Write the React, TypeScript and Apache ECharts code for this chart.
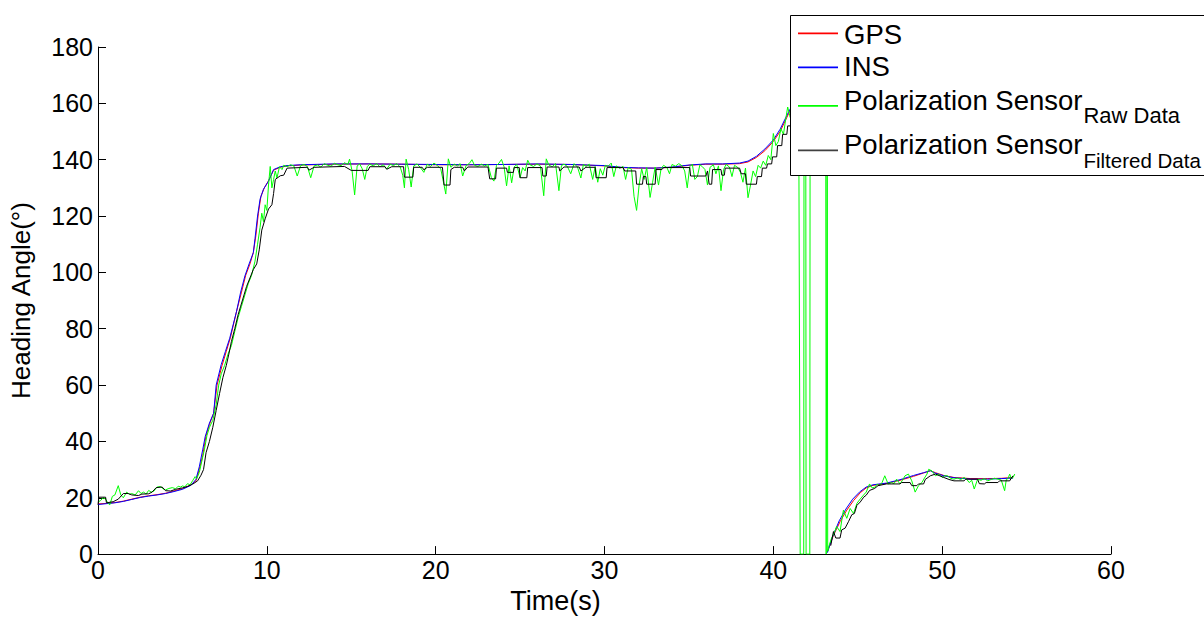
import React, { useEffect, useRef } from "react";
import * as echarts from "echarts";

type P = [number, number | null];

const FONT = "'Liberation Sans', Arial, Helvetica, sans-serif";

const xTickValues = [0, 10, 20, 30, 40, 50, 60];
const yTickValues = [0, 20, 40, 60, 80, 100, 120, 140, 160, 180];

const seriesNames = [
  "GPS",
  "INS",
  "Polarization Sensor Raw Data",
  "Polarization Sensor Filtered Data",
];
const legendMain = ["GPS", "INS", "Polarization Sensor", "Polarization Sensor"];
const legendSub = ["", "", "Raw Data", "Filtered Data"];
const seriesColors = ["#ff0000", "#0000ff", "#00ff00", "#000000"];

const gpsData: P[] = [
  [0, 17.8], [0.5, 18.0], [1, 18.3], [1.5, 18.8], [2, 19.5], [2.5, 20.2], [3, 20.7], [3.5, 21.1],
  [4, 21.6], [4.5, 22.4], [5, 23.2], [5.5, 24.6], [5.8, 26.0], [6.0, 30], [6.2, 35], [6.4, 42],
  [6.6, 46], [6.85, 50], [7.05, 60], [7.35, 67], [7.6, 72], [7.85, 77], [8.2, 86], [8.5, 93],
  [8.75, 99], [9.0, 103], [9.2, 107], [9.35, 113], [9.5, 121], [9.65, 127], [9.85, 130],
  [10.1, 132.5], [10.4, 136.3], [10.8, 137.3], [11.2, 137.8], [12, 138.1], [14, 138.4],
  [16, 138.5], [18, 138.4], [20, 138.2], [22, 138.2], [24, 138.3], [26, 138.4], [28, 138.3],
  [30, 137.8], [31, 137.2], [32, 137.0], [33, 137.0], [34, 137.3], [35, 138.0], [36, 138.4],
  [37, 138.4], [38, 138.6], [38.5, 139.2], [39, 140.8], [39.5, 143.2], [40, 146.5], [40.4, 150],
  [40.8, 155], [41.0, 157.5], [41.2, 160], [41.3, null],
  [43.2, 0.8], [43.55, 6.5], [43.95, 11.5], [44.35, 15.6], [44.75, 19], [45.15, 21.8],
  [45.5, 23.5], [45.9, 24.4], [46.7, 25.1], [47.5, 26.2], [48.3, 27.6], [48.9, 28.8],
  [49.3, 29.6], [49.6, 28.9], [50.1, 27.9], [50.7, 27.2], [51.7, 26.8], [52.7, 26.8],
  [53.5, 26.9], [54.2, 27.2],
];

const insData: P[] = [
  [0, 17.6], [0.5, 17.9], [1, 18.2], [1.5, 18.7], [2, 19.4], [2.5, 20.1], [3, 20.6], [3.5, 21],
  [4, 21.5], [4.5, 22.2], [5, 23], [5.5, 24.4], [5.8, 26.5], [6.0, 31], [6.2, 37], [6.35, 41.7],
  [6.6, 46.5], [6.85, 50], [7.0, 60], [7.3, 67.3], [7.55, 72], [7.8, 76.6], [8.2, 86],
  [8.45, 93], [8.7, 98.7], [8.95, 103], [9.2, 107], [9.3, 112], [9.45, 120], [9.6, 126],
  [9.8, 129.5], [10.1, 132.4], [10.4, 136.5], [10.8, 137.5], [11.2, 137.9], [12, 138.2],
  [14, 138.5], [16, 138.5], [18, 138.4], [20, 138.3], [22, 138.2], [24, 138.3], [26, 138.5],
  [28, 138.3], [30, 137.9], [31, 137.3], [32, 137.1], [33, 137.0], [34, 137.4], [35, 138.1],
  [36, 138.5], [37, 138.5], [38, 138.8], [38.5, 139.5], [39, 141.2], [39.5, 143.8], [40, 147],
  [40.4, 150.8], [40.8, 155.7], [41.0, 158], [41.2, 160.5], [41.3, null],
  [43.2, 0.5], [43.5, 6], [43.9, 11.8], [44.3, 16], [44.7, 19.5], [45.1, 22], [45.5, 23.8],
  [45.9, 24.6], [46.7, 25.2], [47.5, 26.4], [48.3, 27.9], [48.9, 28.9], [49.3, 29.6],
  [49.6, 28.7], [50.1, 27.8], [50.7, 27.1], [51.7, 26.6], [52.7, 26.6], [53.5, 26.8], [54.2, 27.0],
];

const rawData: P[] = [
  [0, 18.5], [0.15, 19], [0.3, 20], [0.45, 19.5], [0.6, 18], [0.7, 17.5], [0.85, 20.5], [1.0, 21],
  [1.2, 24.3], [1.35, 21], [1.5, 20], [1.7, 22], [1.85, 21.2], [2.0, 21.5], [2.2, 21], [2.4, 22.5],
  [2.55, 21.5], [2.7, 22], [2.85, 21.3], [3.0, 22.6], [3.15, 22], [3.3, 22.3], [3.5, 23.8],
  [3.7, 24], [3.85, 23.2], [4.0, 22.8], [4.2, 23.3], [4.4, 23.6], [4.6, 23.2], [4.75, 24.1],
  [4.9, 23.8], [5.0, 24.2], [5.15, 23.9], [5.3, 25], [5.45, 24.6], [5.6, 26], [5.75, 27.5],
  [5.85, 26.8],
  [6.0, 29], [6.15, 33], [6.3, 37], [6.45, 42], [6.6, 45], [6.8, 47.5], [7.0, 53], [7.15, 60],
  [7.3, 64], [7.5, 67], [7.7, 71], [7.9, 74], [8.1, 79], [8.3, 84], [8.5, 88], [8.7, 92],
  [8.9, 96], [9.1, 99], [9.3, 104], [9.45, 110], [9.6, 116], [9.7, 121], [9.8, 118], [9.9, 124],
  [10.0, 122], [10.1, 131], [10.2, 137.6], [10.3, 130], [10.4, 133], [10.5, 136], [10.6, 133.5],
  [10.75, 137.5], [10.9, 136.5], [11.0, 138],
  [11.2, 137.5], [11.4, 138.2], [11.6, 137.8], [11.8, 134.2], [12.0, 137.9], [12.2, 138.3],
  [12.4, 137.6], [12.6, 133.6], [12.8, 137.8], [13.0, 138.1], [13.2, 137.4], [13.4, 138.6],
  [13.6, 138.0], [13.8, 137.7], [14.0, 138.7], [14.2, 138.2], [14.4, 137.9], [14.6, 138.9],
  [14.8, 138.3], [14.9, 140.2], [15.05, 136], [15.2, 127.5], [15.35, 137.8], [15.5, 138.5],
  [15.65, 136.8], [15.8, 133.0], [15.95, 137.6], [16.1, 138.4], [16.3, 137.8], [16.5, 138.6],
  [16.7, 137.5], [16.9, 138.2], [17.1, 136.7], [17.3, 138.4], [17.5, 137.9], [17.7, 138.6],
  [17.9, 137.4], [18.05, 134.5], [18.15, 130], [18.25, 140.2], [18.4, 136.5], [18.55, 130.3],
  [18.7, 137.8], [18.9, 138.5], [19.1, 137.2], [19.3, 135.5], [19.5, 138.4], [19.7, 137.6],
  [19.9, 138.8], [20.1, 137.9], [20.3, 136.8], [20.45, 132.4], [20.6, 127.8], [20.75, 140.3],
  [20.9, 137.3], [21.1, 138.4], [21.3, 137.8], [21.45, 138.6], [21.6, 134.2], [21.8, 137.9],
  [22.0, 138.7], [22.15, 140], [22.3, 138], [22.5, 137.6], [22.7, 138.4], [22.9, 137.8],
  [23.1, 138.3], [23.3, 133.6], [23.45, 132.4], [23.6, 137.9], [23.75, 138.8], [23.9, 140.1],
  [24.05, 137.5], [24.2, 130.7], [24.35, 137.8], [24.5, 131.8], [24.65, 137.4], [24.8, 138.3],
  [25.0, 133.6], [25.15, 137.2], [25.3, 136], [25.45, 139.8], [25.6, 138.1], [25.8, 137.6],
  [26.0, 138.5], [26.2, 137.8], [26.4, 127.2], [26.55, 140.3], [26.7, 138.1], [26.9, 137.5],
  [27.1, 138.6], [27.3, 129], [27.45, 137.9], [27.6, 138.4], [27.8, 137.6], [28.0, 135],
  [28.2, 138.6], [28.4, 137.4], [28.6, 133.5], [28.75, 138.3], [28.9, 137.6], [29.1, 138.4],
  [29.3, 133], [29.45, 137.6], [29.6, 132], [29.75, 136.8], [29.9, 134.5], [30.05, 138],
  [30.2, 137.6], [30.4, 138.8], [30.55, 134], [30.7, 137.8], [30.9, 136.9], [31.1, 137.6],
  [31.25, 133], [31.4, 137.2], [31.6, 136.6], [31.75, 127], [31.9, 122], [32.05, 131],
  [32.2, 136.8], [32.35, 133], [32.5, 137.2], [32.7, 126.6], [32.85, 132], [33.0, 137.4],
  [33.2, 131], [33.35, 136.8], [33.5, 138], [33.7, 137.2], [33.85, 135], [34.0, 138.3],
  [34.2, 137.7], [34.4, 138.6], [34.6, 137.8], [34.75, 136], [34.9, 130], [35.05, 137.5],
  [35.2, 138.4], [35.35, 133], [35.5, 134], [35.65, 138.2], [35.8, 137.5], [35.95, 136.5],
  [36.1, 131], [36.25, 137.3], [36.45, 138.2], [36.6, 135], [36.75, 137.8], [36.9, 129],
  [37.05, 136.5], [37.2, 138.3], [37.4, 137.4], [37.55, 134], [37.7, 138], [37.9, 137.2],
  [38.05, 135.5], [38.2, 132], [38.35, 137], [38.5, 126.5], [38.65, 131], [38.8, 136],
  [38.95, 134], [39.1, 138], [39.25, 137], [39.4, 139.5], [39.55, 138], [39.7, 141.5],
  [39.85, 140], [40.0, 149.3], [40.15, 145], [40.3, 146.5], [40.45, 151], [40.6, 149],
  [40.75, 155], [40.85, 158.7], [41.0, 155], [41.2, 162], [41.5, 165],
  [41.59, 0], [41.8, 0], [41.82, 170], [41.92, 172], [41.94, 0], [42.16, 0], [42.18, 170],
  [43.1, 172], [43.13, 0], [43.16, 0], [43.19, 168], [43.22, 1],
  [43.3, 3], [43.45, 5.7], [43.6, 7.5], [43.75, 9.8], [43.95, 8], [44.15, 15.6], [44.35, 12.7],
  [44.55, 16.2], [44.75, 14.4], [44.95, 18], [45.15, 19.6], [45.35, 21], [45.5, 22], [45.7, 24.9],
  [45.85, 23.5], [46.0, 23.7], [46.15, 24.8], [46.3, 24.3], [46.45, 25.5], [46.6, 27.8],
  [46.8, 24.9], [47.0, 25.4], [47.15, 25], [47.3, 26.6], [47.5, 24.9], [47.65, 26.2], [47.8, 27.8],
  [48.0, 28.4], [48.2, 26], [48.4, 22], [48.6, 24.3], [48.8, 25.4], [48.95, 27], [49.1, 28.4],
  [49.2, 30.1], [49.4, 29.5], [49.6, 27.8], [49.8, 28.4], [50.0, 27.2], [50.15, 27.8], [50.3, 27.8],
  [50.5, 26.9], [50.7, 26.6], [50.9, 27], [51.1, 26.5], [51.3, 27.2], [51.45, 26.6], [51.6, 25.4],
  [51.75, 26.2], [51.9, 23.1], [52.1, 26.6], [52.3, 26.2], [52.5, 26.8], [52.7, 26], [52.9, 26.5],
  [53.1, 26.9], [53.3, 26.6], [53.5, 26.3], [53.7, 22.5], [53.8, 26.5], [53.9, 26.8], [54.0, 28.4],
  [54.1, 26.8], [54.2, 27.2], [54.3, 28.4],
];

const filteredData: P[] = [
  [0, 17.5], [0.05, 20.2], [0.45, 20.2], [0.5, 18.2], [0.9, 18.6], [1.2, 19.5], [1.5, 21.5],
  [1.8, 21.5], [2.0, 21], [2.4, 20.8], [2.6, 21.3], [3.0, 21.4], [3.2, 22], [3.45, 23.6],
  [3.8, 23.8], [4.0, 22.5], [4.3, 22.4], [4.6, 23], [5.0, 23.5], [5.3, 24], [5.6, 24.8],
  [5.9, 26], [6.1, 28], [6.25, 30], [6.4, 36], [6.6, 40], [6.8, 45], [7.0, 51], [7.2, 57],
  [7.4, 62.7], [7.6, 67], [7.75, 71], [7.9, 75.4], [8.1, 80], [8.3, 85], [8.45, 88], [8.65, 92],
  [8.8, 95], [9.0, 98], [9.2, 101], [9.4, 103], [9.55, 108], [9.7, 115], [9.9, 119],
  [10.1, 122.5], [10.3, 124], [10.4, 128], [10.5, 133], [10.8, 134.3], [11.0, 134.5],
  [11.2, 137], [12.4, 137.3], [12.5, 136.3], [12.8, 137.3], [14.6, 137.6], [15.0, 136.2],
  [16.0, 136.2], [16.1, 137.5], [17.0, 137.5], [17.1, 136.6], [17.4, 137.5], [18.1, 137.5],
  [18.15, 133.8], [18.65, 133.8], [18.7, 137.3], [19.2, 137.3], [19.3, 136.4], [19.5, 137.3],
  [20.4, 137.3], [20.5, 131], [20.85, 131], [20.9, 136.5], [21.1, 137.3], [21.6, 137.3],
  [21.7, 136], [21.9, 137.4], [23.1, 137.4], [23.2, 133.2], [23.55, 133.2], [23.6, 137],
  [24.2, 137], [24.25, 135.5], [24.6, 135.5], [24.65, 137.2], [24.95, 137.2], [25.0, 133.6],
  [25.4, 133.6], [25.45, 137.2], [26.3, 137.2], [26.35, 134.2], [26.55, 134.2], [26.6, 137.4],
  [27.3, 137.4], [27.35, 136], [27.6, 137.4], [28.5, 137.4], [28.6, 136], [28.9, 137.3],
  [29.45, 137.3], [29.5, 133.6], [30.1, 133.6], [30.15, 137.2], [31.1, 137.2], [31.2, 136],
  [31.85, 136], [31.9, 131.3], [32.25, 131.3], [32.3, 134], [32.45, 134], [32.5, 131.3],
  [33.0, 131.3], [33.05, 136.5], [33.4, 136.5], [33.5, 137.2], [35.05, 137.2], [35.1, 134.2],
  [36.0, 134.2], [36.1, 136], [36.2, 131.3], [36.35, 131.3], [36.4, 136.5], [36.9, 136.5],
  [36.95, 134.5], [37.1, 134.5], [37.15, 137], [38.0, 137], [38.1, 135], [38.35, 135],
  [38.4, 131.3], [39.0, 131.3], [39.05, 134], [39.3, 134], [39.35, 137], [39.6, 137],
  [39.65, 138.5], [39.9, 138.5], [39.95, 141], [40.2, 141], [40.25, 145], [40.5, 145],
  [40.55, 149], [40.8, 149], [40.85, 152], [41.2, 152], [41.3, null],
  [43.4, 3], [43.56, 8], [43.7, 5.7], [43.95, 5.7], [44.05, 8.6], [44.25, 9.2], [44.45, 11.5],
  [44.65, 14], [44.8, 14.4], [44.95, 17.3], [45.15, 18.5], [45.35, 20.2], [45.5, 20.9],
  [45.7, 22.6], [46.0, 23.3], [46.2, 24.3], [46.7, 24.9], [47.5, 24.9], [47.6, 25.4],
  [48.1, 25.4], [48.2, 24.3], [48.5, 24.3], [48.6, 24.9], [48.9, 24.9], [49.0, 26.5],
  [49.3, 27.8], [49.6, 28.4], [50.1, 27.2], [50.4, 26.5], [50.7, 26], [51.3, 26], [51.4, 26.6],
  [52.1, 26.6], [52.2, 25], [52.5, 24.9], [52.6, 25.4], [53.3, 25.4], [53.4, 26], [54.0, 26],
  [54.1, 27], [54.2, 27.8],
];

const allData = [gpsData, insData, rawData, filteredData];

// legend layout (pixels)
const LEG_X = 790;
const LEG_Y = 15;
const LEG_H = 160;
const LEG_LINE_X1 = 798;
const LEG_LINE_X2 = 838;
const LEG_TEXT_X = 844;
const LEG_LINE_Y = [32.6, 66.6, 105.1, 149.6];
const LEG_MAIN_Y = [34, 66.8, 100.6, 144.6];
const LEG_SUB_Y = [0, 0, 115.7, 160.5];
const LEG_MAIN_SIZE = 27.5;
const LEG_SUB_SIZE = [0, 0, 22, 20.5];

function measure(text: string, size: number): number {
  const c = document.createElement("canvas").getContext("2d");
  if (!c) return text.length * size * 0.55;
  c.font = `${size}px 'Liberation Sans', Arial, sans-serif`;
  return c.measureText(text).width;
}

export default function App() {
  const ref = useRef<HTMLDivElement>(null);

  useEffect(() => {
    if (!ref.current) return;
    const chart = echarts.init(ref.current, undefined, { renderer: "svg" });
    const axisCommon = {
      type: "value" as const,
      axisLine: { show: true, onZero: false, lineStyle: { color: "#000", width: 1 } },
      axisTick: { show: true, inside: true, length: 8, lineStyle: { color: "#000", width: 1 } },
      splitLine: { show: false },
      nameLocation: "middle" as const,
    };

    const legendElements: any[] = [
      {
        type: "rect",
        z: 100,
        shape: { x: LEG_X + 0.5, y: LEG_Y + 0.5, width: 440, height: LEG_H },
        style: { fill: "#ffffff", stroke: "#000000", lineWidth: 1 },
        silent: true,
      },
    ];
    seriesNames.forEach((_, i) => {
      legendElements.push({
        type: "rect",
        z: 101,
        shape: { x: LEG_LINE_X1, y: LEG_LINE_Y[i], width: LEG_LINE_X2 - LEG_LINE_X1, height: 1.6 },
        style: { fill: seriesColors[i], opacity: i === 3 ? 0.75 : 1 },
        silent: true,
      });
      legendElements.push({
        type: "text",
        z: 101,
        x: LEG_TEXT_X,
        y: LEG_MAIN_Y[i],
        style: {
          text: legendMain[i],
          fill: "#000",
          fontSize: LEG_MAIN_SIZE,
          fontFamily: FONT,
          align: "left",
          verticalAlign: "middle",
        },
        silent: true,
      });
      if (legendSub[i]) {
        legendElements.push({
          type: "text",
          z: 101,
          x: LEG_TEXT_X + measure(legendMain[i], LEG_MAIN_SIZE) + 1,
          y: LEG_SUB_Y[i],
          style: {
            text: legendSub[i],
            fill: "#000",
            fontSize: LEG_SUB_SIZE[i],
            fontFamily: FONT,
            align: "left",
            verticalAlign: "middle",
          },
          silent: true,
        });
      }
    });

    chart.setOption({
      animation: false,
      backgroundColor: "#ffffff",
      grid: { left: 98, right: 93, top: 47, bottom: 57, containLabel: false },
      xAxis: {
        ...axisCommon,
        min: xTickValues[0],
        max: xTickValues[xTickValues.length - 1],
        interval: 10,
        axisLabel: { fontSize: 25, color: "#000", fontFamily: FONT, margin: 3 },
        name: "Time(s)",
        nameGap: 31,
        nameTextStyle: { fontSize: 27, color: "#000", fontFamily: FONT, padding: [0, 98, 0, 0] },
      },
      yAxis: {
        ...axisCommon,
        min: yTickValues[0],
        max: yTickValues[yTickValues.length - 1],
        interval: 20,
        axisLabel: { fontSize: 25, color: "#000", fontFamily: FONT, margin: 5 },
        name: "Heading Angle(°)",
        nameGap: 64,
        nameTextStyle: { fontSize: 26, color: "#000", fontFamily: FONT },
      },
      graphic: { elements: legendElements },
      series: seriesNames.map((name, i) => ({
        name,
        type: "line",
        data: allData[i],
        showSymbol: false,
        symbol: "none",
        connectNulls: false,
        color: seriesColors[i],
        itemStyle: { color: seriesColors[i] },
        lineStyle: { color: seriesColors[i], width: 1 },
        emphasis: { disabled: true },
        z: 2 + i * 0.01,
      })),
    });
    return () => chart.dispose();
  }, []);

  return (
    <div
      ref={ref}
      style={{ position: "fixed", left: 0, top: 0, width: 1204, height: 619, background: "#fff" }}
    />
  );
}
